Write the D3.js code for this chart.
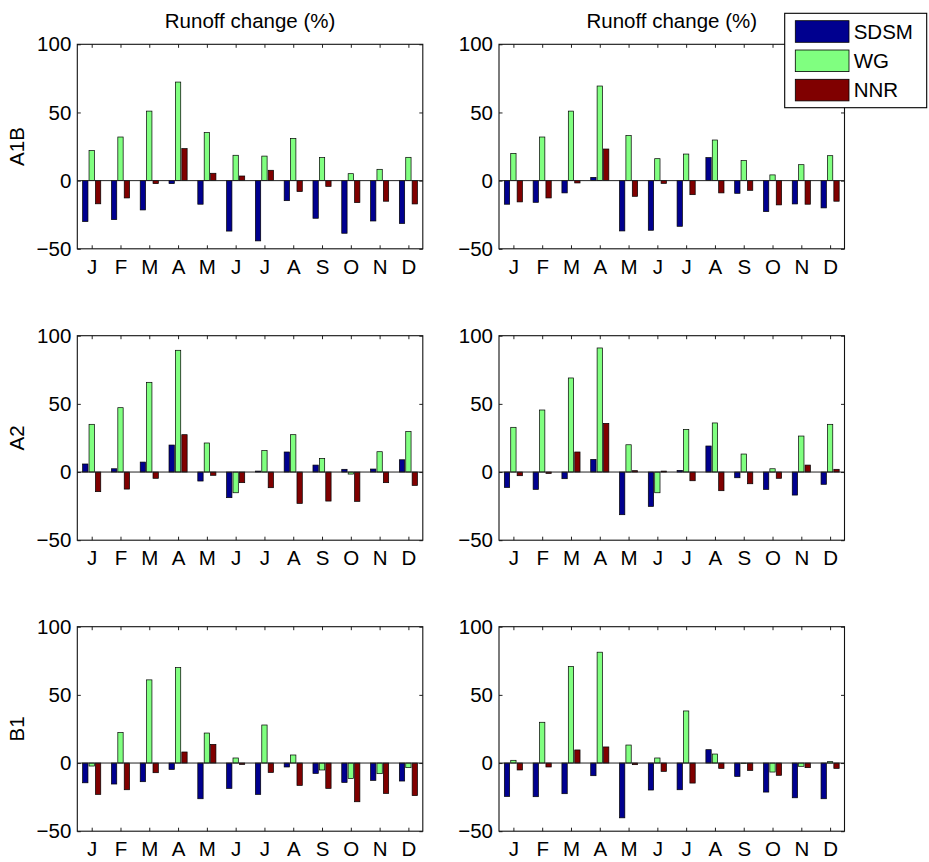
<!DOCTYPE html>
<html>
<head>
<meta charset="utf-8">
<script src="https://cdn.jsdelivr.net/npm/d3@7"></script>
<style>
  html, body { margin: 0; padding: 0; background: #fff; }
  svg { display: block; }
  text { font-family: "Liberation Sans", Arial, Helvetica, sans-serif; fill: #000; }
</style>
</head>
<body>
<svg id="chart" width="929" height="862"></svg>
<script>
// ---------- data ----------
const months = ["J","F","M","A","M","J","J","A","S","O","N","D"];
const seriesNames = ["SDSM","WG","NNR"];
const scenarios = ["A1B","A2","B1"];
const yTicks = [-50, 0, 50, 100];
const titleText = "Runoff change (%)";

// A1B, left column
const a1bLeftSDSM = [-30,-28.6,-21.5,-2.2,-17.3,-37,-44.2,-14.7,-27.6,-38.6,-29.6,-31.4];
const a1bLeftWG   = [22,32,51,72.3,35.2,18.6,18,31,16.9,5.1,8.3,17.1];
const a1bLeftNNR  = [-17,-12.7,-2.2,23.5,5.4,3.4,7.6,-8,-4.2,-16.1,-15.1,-17.1];
// A1B, right column
const a1bRightSDSM = [-17.3,-15.9,-9,2.4,-36.9,-36.4,-33.5,16.9,-9.3,-22.7,-17.1,-20];
const a1bRightWG   = [20,32,51,69.4,33,16.1,19.5,29.8,14.7,4.2,11.7,18.3];
const a1bRightNNR  = [-15.6,-12.7,-1.7,23.2,-11.5,-2,-10.3,-9,-7.1,-17.8,-17.3,-15.1];
// A2, left column
const a2LeftSDSM = [5.9,2.4,7.3,19.8,-6.6,-18.8,0.7,14.7,5.1,2,2.2,9];
const a2LeftWG   = [35,47.2,65.8,89.3,21.3,-15.2,15.7,27.4,10,-1.5,14.9,29.7];
const a2LeftNNR  = [-14.4,-12.5,-4.6,27.4,-2.4,-7.8,-11.5,-23,-21.3,-21.5,-7.8,-9.8];
// A2, right column
const a2RightSDSM = [-11.3,-12.7,-4.9,9.3,-31.3,-25.2,1.2,19.1,-4.2,-12.7,-16.9,-9];
const a2RightWG   = [32.8,45.5,69,91,20,-15.2,31.3,36,13.2,2.4,26.4,35];
const a2RightNNR  = [-2.7,-1,14.7,35.7,1,0.7,-6.4,-13.7,-8.6,-4.6,5.1,2];
// B1, left column
const b1LeftSDSM = [-14.5,-15.4,-13.7,-4.7,-26.2,-18.6,-23,-2.9,-7.6,-14.2,-12.7,-13.2];
const b1LeftWG   = [-2.2,22.3,61,70,22,3.7,27.9,5.9,-5.1,-11.3,-7.8,-3.4];
const b1LeftNNR  = [-23,-19.6,-7.1,8.1,13.7,-1,-6.9,-16.4,-18.6,-28.4,-22.3,-23.9];
// B1, right column
const b1RightSDSM = [-24.5,-24.7,-22.5,-9.3,-40.2,-19.8,-19.6,9.8,-9.8,-21.3,-25.5,-26.2];
const b1RightWG   = [2,29.9,70.8,81.3,13.2,3.7,38.2,6.6,-0.4,-6.6,-2.4,1];
const b1RightNNR  = [-5.1,-2.9,9.6,11.8,-1.2,-6.1,-14.7,-3.9,-5.4,-9,-3.4,-3.9];

const panels = [
  [[a1bLeftSDSM, a1bLeftWG, a1bLeftNNR], [a1bRightSDSM, a1bRightWG, a1bRightNNR]],
  [[a2LeftSDSM, a2LeftWG, a2LeftNNR],   [a2RightSDSM, a2RightWG, a2RightNNR]],
  [[b1LeftSDSM, b1LeftWG, b1LeftNNR],   [b1RightSDSM, b1RightWG, b1RightNNR]]
];

// ---------- layout / style ----------
const colors = ["#00008f", "#80ff80", "#800000"];
const colLeft = [77.3, 499];
const rowTop = [44.3, 335.7, 626.7];
const pw = 345.5, ph = 204.5;
const fontSize = 20.5;
const tickLen = 3.5;
const slot = 0.2222;   // group offset between series (x units)
const barW = 0.185;    // bar width (x units)

const svg = d3.select("#chart");

scenarios.forEach((scen, r) => {
  [0, 1].forEach(c => {
    const g = svg.append("g").attr("transform", `translate(${colLeft[c]},${rowTop[r]})`);
    const x = d3.scaleLinear().domain([0.5, 12.5]).range([0, pw]);
    const y = d3.scaleLinear().domain([-50, 100]).range([ph, 0]);
    const data = panels[r][c];

    // bars
    data.forEach((vals, s) => {
      g.append("g").selectAll("rect")
        .data(vals)
        .join("rect")
        .attr("x", (d, i) => x(i + 1 + (s - 1) * slot - barW / 2))
        .attr("width", x(barW) - x(0))
        .attr("y", d => y(Math.max(0, d)))
        .attr("height", d => Math.abs(y(d) - y(0)))
        .attr("fill", colors[s])
        .attr("stroke", "#000")
        .attr("stroke-width", 0.7);
    });

    // baseline
    g.append("line")
      .attr("x1", 0).attr("x2", pw)
      .attr("y1", y(0)).attr("y2", y(0))
      .attr("stroke", "#222").attr("stroke-width", 1);

    // axes
    const fmtMonth = d => months[d - 1];
    const xb = g.append("g").attr("transform", `translate(0,${ph})`)
      .call(d3.axisBottom(x).tickValues(d3.range(1, 13)).tickFormat(fmtMonth)
        .tickSizeInner(-tickLen).tickSizeOuter(0).tickPadding(10.5));
    const xt = g.append("g")
      .call(d3.axisTop(x).tickValues(d3.range(1, 13)).tickFormat("")
        .tickSizeInner(-tickLen).tickSizeOuter(0));
    const yl = g.append("g")
      .call(d3.axisLeft(y).tickValues(yTicks).tickFormat(d => d < 0 ? "\u221250" : d)
        .tickSizeInner(-tickLen).tickSizeOuter(0).tickPadding(6));
    const yr = g.append("g").attr("transform", `translate(${pw},0)`)
      .call(d3.axisRight(y).tickValues(yTicks).tickFormat("")
        .tickSizeInner(-tickLen).tickSizeOuter(0));
    [xb, xt, yl, yr].forEach(a => {
      a.select(".domain").remove();
      a.selectAll(".tick line").attr("stroke", "#222");
      a.selectAll("text").attr("font-size", fontSize)
        .attr("font-family", '"Liberation Sans", Arial, sans-serif').attr("fill", "#000");
    });

    // box
    g.append("rect").attr("x", 0).attr("y", 0).attr("width", pw).attr("height", ph)
      .attr("fill", "none").attr("stroke", "#111").attr("stroke-width", 1.1);

    // y label (left column only)
    if (c === 0) {
      g.append("text")
        .attr("transform", `translate(${17 - colLeft[c]},${ph / 2}) rotate(-90)`)
        .attr("text-anchor", "middle").attr("dy", "0.35em")
        .attr("font-size", fontSize).text(scen);
    }
    // titles (top row only)
    if (r === 0) {
      g.append("text")
        .attr("x", pw / 2).attr("y", 28 - rowTop[r])
        .attr("text-anchor", "middle").attr("font-size", fontSize).text(titleText);
    }
  });
});

// legend
const lg = svg.append("g").attr("transform", "translate(784.7,13.3)");
lg.append("rect").attr("x", 0).attr("y", 0).attr("width", 142).attr("height", 94.4)
  .attr("fill", "#fff").attr("stroke", "#000").attr("stroke-width", 1.1);
seriesNames.forEach((name, i) => {
  lg.append("rect")
    .attr("x", 10.6).attr("y", 7.4 + i * 29.3).attr("width", 53.7).attr("height", 21.6)
    .attr("fill", colors[i]).attr("stroke", "#000").attr("stroke-width", 0.8);
  lg.append("text")
    .attr("x", 69).attr("y", 18.2 + i * 29.3).attr("dy", "0.35em")
    .attr("font-size", fontSize).text(name);
});
</script>
</body>
</html>
